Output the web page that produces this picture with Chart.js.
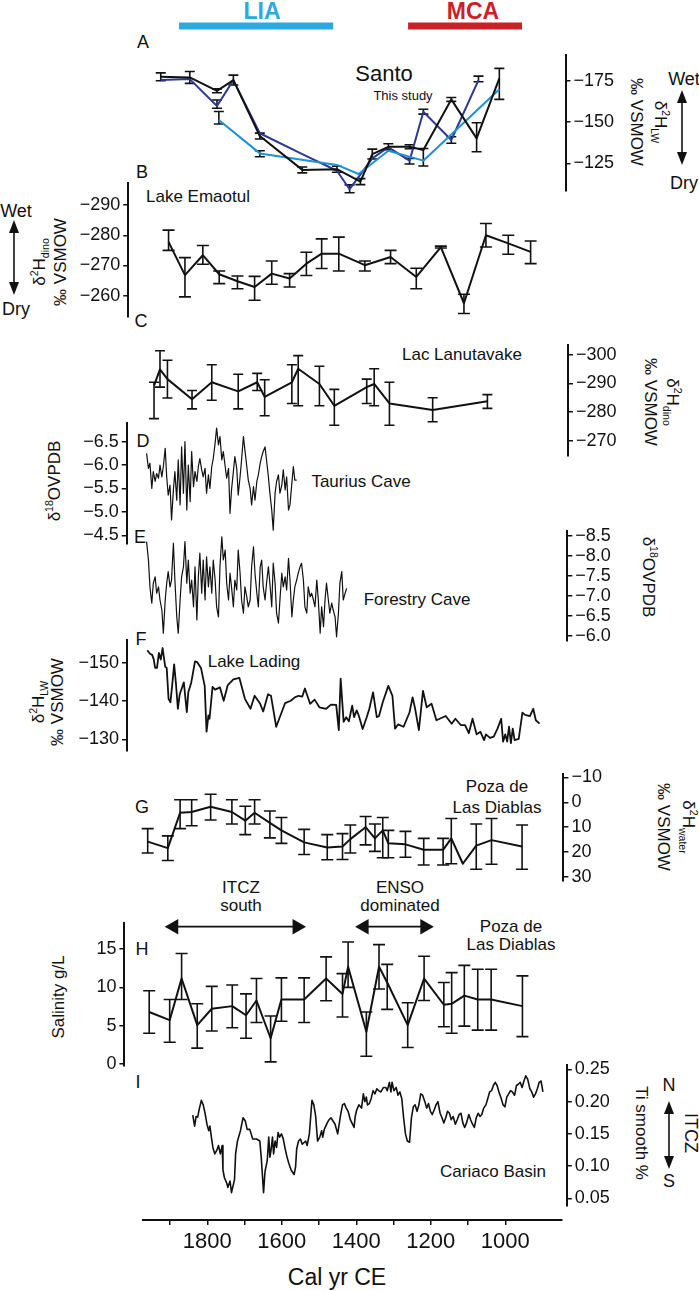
<!DOCTYPE html>
<html>
<head>
<meta charset="utf-8">
<title>Hydroclimate records</title>
<script src="https://cdn.jsdelivr.net/npm/chart.js@4.4.1/dist/chart.umd.min.js"></script>
<style>
  html, body { margin: 0; padding: 0; background: #fff; }
  #page { position: relative; width: 699px; height: 1291px; overflow: hidden;
          font-family: "Liberation Sans", Arial, sans-serif; color: #111; }
  #page canvas { position: absolute; left: 0; }
  .t { position: absolute; white-space: nowrap; transform: translate(-50%, -50%);
       text-align: center; font-size: 17px; line-height: 1.1; }
  .t.up { transform: translate(-50%, -50%) rotate(-90deg); }
  .t.down { transform: translate(-50%, -50%) rotate(90deg); }
  .t sup, .t sub { font-size: 0.62em; line-height: 0; }
  #arrows { position: absolute; left: 0; top: 0; }
</style>
</head>
<body>
<div id="page">
  <svg id="arrows" width="699" height="1291">
    <g stroke="#111" stroke-width="1.6">
      <line x1="682" y1="100" x2="682" y2="155"/>
      <line x1="14" y1="230" x2="14" y2="285"/>
      <line x1="669" y1="1111" x2="669" y2="1159"/>
    </g>
    <g fill="#111">
      <polygon points="682,90 677,103 687,103"/>
      <polygon points="682,165 677,152 687,152"/>
      <polygon points="14,220 9,233 19,233"/>
      <polygon points="14,295 9,282 19,282"/>
      <polygon points="669,1101 664,1114 674,1114"/>
      <polygon points="669,1169 664,1156 674,1156"/>
    </g>
  </svg>

  <div class="t" style="left:262px;top:12px;font-size:23px;font-weight:bold;color:#29abe2">LIA</div>
  <div class="t" style="left:473px;top:12px;font-size:23px;font-weight:bold;color:#cc2027">MCA</div>
  <div class="t" style="left:143px;top:43px;font-size:18px">A</div>
  <div class="t" style="left:384px;top:74px;font-size:22px">Santo</div>
  <div class="t" style="left:403px;top:96px;font-size:13px">This study</div>
  <div class="t down" style="left:648px;top:122px;line-height:24px">δ<sup>2</sup>H<sub>LW</sub><br>‰ VSMOW</div>
  <div class="t" style="left:684px;top:80px;font-size:18px">Wet</div>
  <div class="t" style="left:684px;top:184px;font-size:18px">Dry</div>

  <div class="t" style="left:142px;top:173px;font-size:18px">B</div>
  <div class="t" style="left:198px;top:197px">Lake Emaotul</div>
  <div class="t" style="left:16px;top:212px;font-size:18px">Wet</div>
  <div class="t" style="left:16px;top:310px;font-size:18px">Dry</div>
  <div class="t up" style="left:50px;top:262px;line-height:21px">δ<sup>2</sup>H<sub>dino</sub><br>‰ VSMOW</div>

  <div class="t" style="left:141px;top:322px;font-size:18px">C</div>
  <div class="t" style="left:462px;top:355px">Lac Lanutavake</div>
  <div class="t down" style="left:661px;top:402px;line-height:22px">δ<sup>2</sup>H<sub>dino</sub><br>‰ VSMOW</div>

  <div class="t" style="left:143px;top:442px;font-size:18px">D</div>
  <div class="t" style="left:361px;top:482px">Taurius Cave</div>
  <div class="t up" style="left:55px;top:481px">δ<sup>18</sup>OVPDB</div>

  <div class="t" style="left:140px;top:538px;font-size:18px">E</div>
  <div class="t" style="left:417px;top:600px">Forestry Cave</div>
  <div class="t down" style="left:648px;top:577px">δ<sup>18</sup>OVPDB</div>

  <div class="t" style="left:141px;top:640px;font-size:18px">F</div>
  <div class="t" style="left:254px;top:662px">Lake Lading</div>
  <div class="t up" style="left:48px;top:702px;line-height:19px">δ<sup>2</sup>H<sub>LW</sub><br>‰ VSMOW</div>

  <div class="t" style="left:142px;top:808px;font-size:18px">G</div>
  <div class="t" style="left:497px;top:797px;line-height:21px">Poza de<br>Las Diablas</div>
  <div class="t down" style="left:676px;top:827px;line-height:25px">δ<sup>2</sup>H<sub>water</sub><br>‰ VSMOW</div>

  <div class="t" style="left:241px;top:897px;line-height:18px">ITCZ<br>south</div>
  <div class="t" style="left:400px;top:897px;line-height:18px">ENSO<br>dominated</div>
  <div class="t" style="left:511px;top:936px;line-height:18px">Poza de<br>Las Diablas</div>
  <div class="t" style="left:142px;top:950px;font-size:18px">H</div>
  <div class="t up" style="left:59px;top:997px">Salinity g/L</div>

  <div class="t" style="left:138px;top:1083px;font-size:18px">I</div>
  <div class="t" style="left:493px;top:1172px">Cariaco Basin</div>
  <div class="t down" style="left:641px;top:1133px">Ti smooth %</div>
  <div class="t" style="left:669px;top:1086px;font-size:18px">N</div>
  <div class="t" style="left:669px;top:1182px;font-size:18px">S</div>
  <div class="t down" style="left:690px;top:1133px;font-size:18px">ITCZ</div>

  <div class="t" style="left:337px;top:1278px;font-size:23px">Cal yr CE</div>
</div>

<script>
// periods shown as bars / arrows
const liaPeriod = [1876, 1462];
const mcaPeriod = [1261, 955];
const itczSouthSpan = [1890, 1559];
const ensoSpan = [1379, 1216];

// A - Santo (this study), three lake-water curves
const santoBlackYears = [1925, 1847, 1774, 1730, 1659, 1545, 1452, 1389, 1357, 1314, 1257, 1220, 1145, 1077, 1016];
const santoBlackValues = [-177.4, -177.0, -168.9, -175.4, -141.5, -121.0, -121.4, -113.9, -130.6, -135.0, -135.0, -133.0, -163.7, -140.1, -176.4];
const santoBlackLow = [-179.8, -180.6, -170.1, -178.4, -143.3, -122.8, -123.2, -115.7, -133.6, -136.8, -136.2, -134.0, -164.9, -149.6, -182.5];
const santoBlackHigh = [-175.0, -173.4, -167.7, -172.4, -139.7, -119.2, -119.6, -112.1, -127.6, -133.2, -133.8, -123.4, -162.5, -132.0, -163.7];

const santoNavyYears = [1925, 1847, 1774, 1730, 1659, 1545, 1452, 1418, 1357, 1314, 1257, 1220, 1145, 1072];
const santoNavyValues = [-175.4, -176.0, -159.7, -175.4, -143.2, -130.6, -120.5, -109.3, -128.0, -134.7, -126.6, -156.2, -139.1, -175.4];
const santoNavyLow = [null, null, -163.3, null, null, null, null, -111.9, null, null, -128.0, -157.7, -141.1, -177.8];
const santoNavyHigh = [null, null, -158.3, null, null, null, null, -107.2, null, null, -124.6, -154.8, -137.1, -174.4];

const santoLightYears = [1769, 1659, 1452, 1394, 1314, 1220, 1016];
const santoLightValues = [-151.2, -131.0, -124.0, -118.5, -132.6, -126.6, -169.8];
const santoLightLow = [-156.4, -132.6, null, null, null, null, null];
const santoLightHigh = [-148.8, -129.0, null, null, null, null, null];
const santoTicks = [-175, -150, -125];

// B - Lake Emaotul
const emaotulYears = [1904, 1860, 1812, 1768, 1719, 1673, 1627, 1579, 1534, 1493, 1447, 1377, 1308, 1239, 1173, 1111, 1052, 992, 932];
const emaotulValues = [-277.8, -266.8, -273.4, -267.1, -264.8, -262.9, -267.3, -265.7, -270.6, -273.9, -273.9, -270.1, -272.8, -266.2, -276.1, -257.5, -280.0, -277.3, -274.5];
const emaotulLow = [-281.7, -272.6, -276.6, -268.2, -266.5, -266.4, -271.5, -267.3, -274.4, -278.8, -279.4, -271.5, -275.0, -269.1, -276.4, -260.5, -283.9, -280.0, -278.1];
const emaotulHigh = [-275.0, -259.6, -270.4, -264.0, -262.3, -258.5, -263.8, -262.9, -266.7, -269.0, -268.2, -268.2, -270.6, -262.3, -275.8, -254.1, -276.1, -273.7, -270.6];
const emaotulTicks = [-290, -280, -270, -260];

// C - Lac Lanutavake
const lanutavakeYears = [1943, 1927, 1907, 1841, 1788, 1717, 1666, 1646, 1573, 1556, 1499, 1459, 1372, 1352, 1311, 1195, 1048];
const lanutavakeValues = [-289.2, -294.9, -291.5, -284.5, -290.4, -287.2, -290.4, -285.3, -290.4, -295.1, -289.8, -282.2, -288.7, -289.8, -283.0, -280.7, -283.8];
const lanutavakeLow = [-290.4, -301.4, -298.1, -287.5, -296.5, -293.2, -293.5, -291.3, -296.5, -299.7, -296.0, -287.9, -291.5, -295.1, -290.4, -285.0, -286.1];
const lanutavakeHigh = [-277.7, -288.7, -284.9, -281.1, -284.1, -281.1, -287.5, -278.7, -283.0, -282.2, -282.2, -275.4, -283.0, -282.2, -275.4, -276.6, -281.3];
const lanutavakeTicks = [-300, -290, -280, -270];

// D, E - speleothem records share one age grid
const caveYears = [1963, 1958, 1954, 1949, 1945, 1940, 1936, 1931, 1927, 1922,
  1918, 1913, 1909, 1905, 1900, 1896, 1891, 1887, 1882, 1878,
  1873, 1869, 1864, 1860, 1855, 1851, 1846, 1842, 1837, 1833,
  1828, 1824, 1820, 1815, 1811, 1806, 1802, 1797, 1793, 1788,
  1784, 1779, 1775, 1770, 1766, 1761, 1757, 1752, 1748, 1743,
  1739, 1735, 1730, 1726, 1721, 1717, 1712, 1708, 1703, 1699,
  1694, 1690, 1685, 1681, 1676, 1672, 1667, 1663, 1658, 1654,
  1650, 1645, 1641, 1636, 1632, 1627, 1623, 1618, 1614, 1609,
  1605, 1600, 1596, 1591, 1587, 1582, 1578, 1573, 1569, 1565,
  1560, 1556, 1551, 1547, 1542, 1538, 1533, 1529, 1524, 1520,
  1515, 1511, 1506, 1502, 1497, 1493, 1488, 1484, 1480, 1475,
  1471, 1466, 1462, 1457, 1453, 1448, 1444, 1439, 1435, 1430,
  1426];
const tauriusValues = [-6.25, -5.93, -6.04, -5.50, -5.86, -5.65, -5.82, -5.72, -6.00, -5.75,
  -5.97, -6.36, -5.75, -5.36, -5.57, -4.83, -5.47, -5.86, -5.25, -6.11,
  -5.15, -6.39, -5.40, -6.50, -5.04, -6.00, -5.22, -6.29, -5.54, -5.86,
  -5.65, -5.97, -6.14, -5.90, -5.75, -5.93, -5.40, -5.79, -5.50, -5.97,
  -6.14, -6.47, -6.79, -6.43, -6.61, -6.11, -6.29, -5.97, -5.72, -5.93,
  -4.97, -5.47, -5.86, -6.18, -5.93, -5.36, -5.75, -6.11, -6.61, -6.32,
  -5.97, -5.68, -5.50, -5.15, -5.54, -5.25, -5.65, -5.79, -6.04, -6.18,
  -6.29, -6.39, -6.11, -5.75, -5.40, -5.04, -4.61, -5.40, -5.65, -5.79,
  -5.40, -5.57, -5.90, -5.47, -5.75, -5.04, -5.15, -5.61, -5.97, -5.68, -5.68];
const tauriusTicks = [-6.5, -6.0, -5.5, -5.0, -4.5];

const forestryValues = [-8.36, -7.90, -7.23, -6.82, -7.32, -7.48, -7.07, -7.23, -6.90, -6.65,
  -6.07, -6.90, -7.32, -7.61, -7.23, -7.40, -8.32, -7.40, -6.48, -6.07,
  -6.90, -7.48, -7.73, -8.36, -7.32, -7.90, -7.07, -7.40, -6.73, -7.73,
  -6.40, -7.48, -8.07, -7.07, -7.90, -6.90, -7.98, -7.23, -7.73, -7.07,
  -7.90, -7.40, -6.73, -6.48, -7.73, -8.48, -7.90, -8.15, -7.32, -6.90,
  -7.57, -7.23, -6.73, -7.40, -7.15, -8.15, -7.57, -6.90, -6.57, -7.23,
  -6.98, -6.73, -6.90, -7.73, -8.23, -7.57, -7.07, -6.73, -7.73, -7.90,
  -7.23, -6.90, -7.32, -7.73, -7.32, -6.73, -7.82, -7.32, -6.57, -6.32,
  -6.90, -7.57, -7.23, -7.48, -7.15, -7.94, -7.40, -6.48, -6.90, -7.23,
  -7.40, -7.57, -7.73, -7.82, -7.40, -6.73, -6.57, -7.23, -6.98, -7.07,
  -6.90, -6.73, -7.40, -6.90, -6.07, -6.73, -6.23, -6.90, -7.32, -6.90,
  -6.57, -6.82, -6.65, -6.48, -5.98, -6.57, -7.32, -7.61, -6.90, -7.07,
  -7.19];
const forestryTicks = [-8.5, -8.0, -7.5, -7.0, -6.5, -6.0];

// F - Lake Lading
const ladingYears = [1961, 1954, 1948, 1944, 1940, 1935, 1930, 1925, 1920, 1913,
  1909, 1904, 1899, 1894, 1889, 1884, 1879, 1874, 1863, 1855,
  1851, 1843, 1833, 1827, 1817, 1807, 1802, 1797, 1794, 1786,
  1779, 1766, 1756, 1745, 1730, 1714, 1699, 1684, 1673, 1658,
  1650, 1637, 1629, 1615, 1591, 1576, 1565, 1555, 1545, 1538,
  1524, 1512, 1499, 1481, 1468, 1454, 1447, 1442, 1434, 1427,
  1420, 1411, 1406, 1399, 1393, 1383, 1372, 1365, 1355, 1345,
  1339, 1329, 1314, 1303, 1296, 1288, 1273, 1257, 1249, 1242,
  1232, 1221, 1211, 1198, 1185, 1160, 1144, 1134, 1119, 1108,
  1098, 1088, 1077, 1067, 1057, 1052, 1041, 1031, 1021, 1011,
  1006, 1000, 995, 990, 985, 980, 975, 964, 954, 947,
  934, 925, 918, 908];
const ladingValues = [-153.3, -152.4, -152.1, -151.0, -148.7, -148.7, -152.6, -150.9, -153.9, -149.0,
  -148.7, -140.6, -139.7, -144.4, -149.6, -144.4, -138.0, -141.8, -144.9, -137.1,
  -142.3, -144.9, -150.4, -150.2, -148.7, -144.0, -132.0, -136.3, -135.4, -143.7,
  -143.0, -143.6, -140.1, -144.2, -145.7, -146.1, -140.6, -138.0, -141.4, -139.3,
  -137.3, -141.8, -141.4, -133.3, -139.5, -140.1, -141.0, -141.4, -141.2, -143.3,
  -139.3, -140.4, -138.4, -138.0, -139.1, -139.0, -132.4, -145.9, -134.6, -135.8,
  -134.7, -138.8, -135.8, -137.6, -136.1, -132.7, -135.8, -138.0, -142.3, -135.8,
  -136.1, -139.7, -144.0, -141.4, -132.8, -133.9, -133.3, -137.1, -141.0, -138.0,
  -132.4, -142.7, -138.4, -139.3, -135.0, -136.1, -134.1, -135.4, -133.7, -133.7,
  -131.6, -135.4, -131.3, -132.0, -129.8, -131.3, -130.4, -130.7, -132.8, -135.4,
  -129.4, -131.3, -129.4, -133.3, -129.0, -132.8, -129.8, -130.1, -137.0, -136.4,
  -136.1, -138.0, -135.0, -134.1];
const ladingTicks = [-150, -140, -130];

// G - Poza de Las Diablas, water isotopes
const diablasYears = [1960, 1906, 1873, 1842, 1791, 1734, 1698, 1673, 1632, 1601, 1540, 1478, 1437, 1416, 1375, 1350, 1329, 1314, 1268, 1219, 1167, 1145, 1114, 1078, 1037, 955];
const diablasValues = [15.8, 18.4, 4.2, 3.9, 1.8, 3.9, 7.4, 4.2, 8.3, 11.3, 16.1, 18.2, 17.8, 14.8, 10.0, 14.5, 11.3, 16.5, 16.9, 19.1, 19.1, 14.5, 24.7, 17.4, 15.2, 17.8];
const diablasLow = [10.6, 13.5, -1.0, -1.0, -3.2, -1.0, 1.6, -1.0, 3.5, 6.1, 10.9, 13.0, 12.6, 9.1, 5.7, 8.7, 6.1, 11.3, 11.7, 14.5, 14.5, 6.5, null, 8.7, 6.5, 9.1];
const diablasHigh = [20.4, 23.4, 10.6, 9.4, 7.1, 8.7, 13.0, 8.7, 14.3, 16.5, 21.0, 23.1, 23.0, 20.4, 17.1, 19.7, 22.3, 22.3, 22.1, 25.2, 25.2, 24.7, null, 26.9, 24.9, 26.9];
const diablasTicks = [-10, 0, 10, 20, 30];

// H - Poza de Las Diablas, salinity
const salinityYears = [1956, 1901, 1869, 1827, 1788, 1733, 1696, 1668, 1630, 1601, 1540, 1481, 1437, 1422, 1373, 1339, 1317, 1262, 1218, 1165, 1144, 1110, 1074, 1038, 954];
const salinityValues = [6.79, 5.73, 11.15, 5.09, 7.22, 7.56, 6.37, 8.29, 3.38, 8.42, 8.42, 11.15, 9.15, 12.69, 4.23, 12.69, 10.64, 5.09, 11.15, 7.74, 7.86, 8.93, 8.42, 8.42, 7.56];
const salinityLow = [4.02, 2.86, 8.42, 2.09, 4.32, 4.74, 3.38, 5.43, 0.30, 5.60, 5.43, 8.25, 6.15, 10.00, 1.03, 9.79, 7.14, 2.18, 8.29, 4.87, 4.02, 4.96, 4.44, 4.44, 3.59];
const salinityHigh = [9.57, 8.42, 14.40, 7.86, 10.13, 10.30, 9.15, 11.15, 6.28, 11.24, 11.24, 13.97, 11.79, 15.90, 6.79, 15.56, 12.99, 7.99, 14.06, 10.64, 11.92, 12.86, 12.35, 12.35, 11.50];
const salinityTicks = [0, 5, 10, 15];

// I - Cariaco Basin Ti
const cariacoYears = [1839, 1834, 1830, 1826, 1821, 1816, 1811, 1806, 1801, 1796,
  1793, 1789, 1785, 1780, 1775, 1770, 1765, 1760, 1758, 1754,
  1748, 1745, 1739, 1735, 1731, 1727, 1724, 1719, 1711, 1704,
  1698, 1693, 1686, 1678, 1668, 1659, 1655, 1649, 1645, 1639,
  1635, 1632, 1629, 1625, 1622, 1618, 1614, 1610, 1606, 1601,
  1596, 1591, 1586, 1581, 1575, 1567, 1563, 1560, 1555, 1550,
  1545, 1536, 1532, 1526, 1522, 1519, 1514, 1509, 1504, 1498,
  1493, 1490, 1486, 1478, 1473, 1468, 1457, 1450, 1442, 1437,
  1432, 1427, 1422, 1416, 1406, 1403, 1399, 1393, 1386, 1381,
  1377, 1373, 1370, 1365, 1360, 1355, 1350, 1345, 1340, 1334,
  1327, 1321, 1317, 1311, 1307, 1304, 1299, 1293, 1288, 1283,
  1278, 1273, 1268, 1263, 1257, 1252, 1247, 1242, 1237, 1232,
  1227, 1222, 1216, 1211, 1206, 1201, 1196, 1191, 1186, 1181,
  1175, 1170, 1165, 1160, 1155, 1150, 1145, 1140, 1134, 1129,
  1124, 1119, 1114, 1109, 1104, 1098, 1093, 1088, 1083, 1078,
  1073, 1068, 1063, 1058, 1052, 1047, 1042, 1037, 1032, 1027,
  1022, 1017, 1011, 1006, 1001, 996, 991, 986, 981, 975,
  970, 965, 960, 955, 950, 945, 940, 934, 929, 924,
  919, 914, 909, 904, 899];
const cariacoValues = [0.179, 0.162, 0.177, 0.176, 0.190, 0.202, 0.195, 0.182, 0.165, 0.155,
  0.162, 0.145, 0.129, 0.119, 0.124, 0.132, 0.119, 0.132, 0.094, 0.082,
  0.074, 0.067, 0.077, 0.059, 0.069, 0.079, 0.119, 0.139, 0.155, 0.175,
  0.170, 0.157, 0.157, 0.142, 0.142, 0.139, 0.112, 0.059, 0.092, 0.109,
  0.145, 0.114, 0.124, 0.145, 0.119, 0.139, 0.129, 0.152, 0.145, 0.150,
  0.142, 0.127, 0.114, 0.104, 0.094, 0.087, 0.099, 0.127, 0.139, 0.142,
  0.134, 0.139, 0.132, 0.150, 0.180, 0.202, 0.195, 0.177, 0.139, 0.145,
  0.155, 0.145, 0.157, 0.167, 0.172, 0.175, 0.165, 0.150, 0.180, 0.195,
  0.197, 0.190, 0.185, 0.172, 0.160, 0.177, 0.187, 0.195, 0.190, 0.212,
  0.200, 0.207, 0.195, 0.197, 0.205, 0.217, 0.212, 0.220, 0.217, 0.215,
  0.222, 0.222, 0.217, 0.230, 0.215, 0.230, 0.217, 0.222, 0.210, 0.215,
  0.205, 0.175, 0.150, 0.139, 0.137, 0.175, 0.192, 0.195, 0.185, 0.195,
  0.212, 0.210, 0.200, 0.190, 0.197, 0.185, 0.180, 0.187, 0.195, 0.200,
  0.182, 0.175, 0.167, 0.175, 0.185, 0.182, 0.172, 0.177, 0.165, 0.172,
  0.180, 0.182, 0.167, 0.160, 0.167, 0.180, 0.172, 0.165, 0.160, 0.175,
  0.182, 0.177, 0.180, 0.190, 0.195, 0.205, 0.215, 0.217, 0.225, 0.230,
  0.225, 0.215, 0.205, 0.195, 0.192, 0.207, 0.212, 0.217, 0.215, 0.210,
  0.225, 0.227, 0.230, 0.222, 0.232, 0.240, 0.235, 0.220, 0.215, 0.207,
  0.212, 0.220, 0.230, 0.232, 0.215];
const cariacoTicks = [0.05, 0.10, 0.15, 0.20, 0.25];

// shared time axis
const axisTickYears = [1900, 1800, 1700, 1600, 1500, 1400, 1300, 1200, 1100, 1000];
const axisLabelYears = [1800, 1600, 1400, 1200, 1000];

// ---- layout: every panel shares the same year -> pixel mapping
const PX_1800 = 207.3;
const PX_PER_YEAR = 0.3725;
const AXIS_W = 60;
const FONT = '"Liberation Sans", Arial, sans-serif';
const yearAt = px => 1800 + (PX_1800 - px) / PX_PER_YEAR;
const minus = s => s.replace('-', '\u2212');
const page = document.getElementById('page');

const errorBars = {
  id: 'errorBars',
  beforeDatasetsDraw(chart) {
    const ctx = chart.ctx, xs = chart.scales.x, ys = chart.scales.y;
    chart.data.datasets.forEach(ds => {
      if (!ds.lows) return;
      const c = (ds.capWidth || 12) / 2;
      ctx.save();
      ctx.strokeStyle = '#111';
      ctx.lineWidth = 1.6;
      ds.data.forEach((p, i) => {
        if (ds.lows[i] == null) return;
        const x = xs.getPixelForValue(p.x);
        const y1 = ys.getPixelForValue(ds.lows[i]);
        const y2 = ys.getPixelForValue(ds.highs[i]);
        ctx.beginPath();
        ctx.moveTo(x, y1); ctx.lineTo(x, y2);
        ctx.moveTo(x - c, y1); ctx.lineTo(x + c, y1);
        ctx.moveTo(x - c, y2); ctx.lineTo(x + c, y2);
        ctx.stroke();
      });
      ctx.restore();
    });
  }
};

function series(years, values, opts) {
  return Object.assign({
    data: values.map((v, i) => ({ x: years[i], y: v })),
    borderColor: '#111',
    borderWidth: 2,
    clip: false,
    pointRadius: 0
  }, opts || {});
}

function makeCanvas(top, height) {
  const canvas = document.createElement('canvas');
  canvas.width = 699;
  canvas.height = height;
  canvas.style.top = top + 'px';
  page.appendChild(canvas);
  return canvas;
}

function panel(p) {
  const canvas = makeCanvas(p.top, p.height);
  const left = p.side === 'left' ? p.axisX : 90;
  const right = p.side === 'right' ? p.axisX : 610;
  new Chart(canvas, {
    type: 'line',
    data: { datasets: p.datasets },
    options: {
      responsive: false,
      animation: false,
      events: [],
      layout: {
        autoPadding: false,
        padding: {
          left: p.side === 'left' ? left - AXIS_W : left,
          right: p.side === 'right' ? 699 - right - AXIS_W : 699 - right,
          top: p.axisTop - p.top,
          bottom: p.top + p.height - p.axisBottom
        }
      },
      plugins: { legend: { display: false }, tooltip: { enabled: false } },
      elements: { point: { radius: 0, hoverRadius: 0 }, line: { tension: 0, borderJoinStyle: 'round' } },
      scales: {
        x: { type: 'linear', display: false, reverse: true, min: yearAt(right), max: yearAt(left) },
        y: {
          type: 'linear',
          position: p.side,
          reverse: p.topVal < p.bottomVal,
          min: Math.min(p.topVal, p.bottomVal),
          max: Math.max(p.topVal, p.bottomVal),
          afterFit: s => { s.width = AXIS_W; },
          afterBuildTicks: s => { s.ticks = p.ticks.map(v => ({ value: v })); },
          border: { color: '#111', width: 2 },
          grid: { drawOnChartArea: false, color: '#111', lineWidth: 1.5, tickLength: 5 },
          ticks: {
            color: '#111', padding: 3, autoSkip: false,
            font: { family: FONT, size: 18 },
            callback: v => minus(Number(v).toFixed(p.decimals || 0))
          }
        }
      }
    },
    plugins: [errorBars]
  });
}

// A
panel({
  top: 0, height: 210, axisTop: 55, axisBottom: 190.7, axisX: 565.5, side: 'right',
  topVal: -190.6, bottomVal: -108.4, ticks: santoTicks,
  datasets: [
    series(liaPeriod, [-208.1, -208.1], { borderColor: '#29abe2', borderWidth: 7, borderCapStyle: 'butt' }),
    series(mcaPeriod, [-208.1, -208.1], { borderColor: '#cc2027', borderWidth: 7, borderCapStyle: 'butt' }),
    series(santoBlackYears, santoBlackValues, { lows: santoBlackLow, highs: santoBlackHigh, capWidth: 10 }),
    series(santoLightYears, santoLightValues, { borderColor: '#1f8fd6', lows: santoLightLow, highs: santoLightHigh, capWidth: 10 }),
    series(santoNavyYears, santoNavyValues, { borderColor: '#2e3a92', lows: santoNavyLow, highs: santoNavyHigh, capWidth: 10 })
  ]
});

// B
panel({
  top: 160, height: 175, axisTop: 182.7, axisBottom: 316.7, axisX: 128.2, side: 'left',
  topVal: -297.4, bottomVal: -253.05, ticks: emaotulTicks,
  datasets: [series(emaotulYears, emaotulValues, { lows: emaotulLow, highs: emaotulHigh })]
});

// C
panel({
  top: 325, height: 145, axisTop: 345, axisBottom: 459.3, axisX: 568, side: 'right',
  topVal: -303.4, bottomVal: -264.6, ticks: lanutavakeTicks,
  datasets: [series(lanutavakeYears, lanutavakeValues, { lows: lanutavakeLow, highs: lanutavakeHigh, capWidth: 10 })]
});

// D
panel({
  top: 400, height: 160, axisTop: 422.7, axisBottom: 543.3, axisX: 126.7, side: 'left',
  topVal: -6.906, bottomVal: -4.329, ticks: tauriusTicks, decimals: 1,
  datasets: [series(caveYears, tauriusValues, { borderWidth: 1.2 })]
});

// E
panel({
  top: 515, height: 140, axisTop: 530.7, axisBottom: 641, axisX: 567.3, side: 'right',
  topVal: -8.633, bottomVal: -5.875, ticks: forestryTicks, decimals: 1,
  datasets: [series(caveYears, forestryValues, { borderWidth: 1.2 })]
});

// F
panel({
  top: 625, height: 140, axisTop: 640, axisBottom: 753, axisX: 127, side: 'left',
  topVal: -156.0, bottomVal: -126.9, ticks: ladingTicks,
  datasets: [series(ladingYears, ladingValues, { borderWidth: 1.8 })]
});

// G
panel({
  top: 760, height: 135, axisTop: 773.3, axisBottom: 884, axisX: 563.4, side: 'right',
  topVal: -11.44, bottomVal: 31.7, ticks: diablasTicks,
  datasets: [series(diablasYears, diablasValues, { lows: diablasLow, highs: diablasHigh })]
});

// H
panel({
  top: 905, height: 175, axisTop: 923.3, axisBottom: 1068, axisX: 124.4, side: 'left',
  topVal: 18.34, bottomVal: -0.26, ticks: salinityTicks,
  datasets: [
    series(itczSouthSpan, [17.9, 17.9], { pointStyle: 'triangle', pointRadius: 9, pointRotation: [-90, 90], pointBackgroundColor: '#111', pointBorderWidth: 0, borderWidth: 1.8 }),
    series(ensoSpan, [17.9, 17.9], { pointStyle: 'triangle', pointRadius: 9, pointRotation: [-90, 90], pointBackgroundColor: '#111', pointBorderWidth: 0, borderWidth: 1.8 }),
    series(salinityYears, salinityValues, { lows: salinityLow, highs: salinityHigh })
  ]
});

// I
panel({
  top: 1050, height: 170, axisTop: 1065, axisBottom: 1210, axisX: 566.8, side: 'right',
  topVal: 0.2568, bottomVal: 0.0379, ticks: cariacoTicks, decimals: 2,
  datasets: [series(cariacoYears, cariacoValues, { borderWidth: 1.6 })]
});

// shared time axis
(function () {
  const canvas = makeCanvas(1190, 101);
  new Chart(canvas, {
    type: 'line',
    data: { datasets: [] },
    options: {
      responsive: false,
      animation: false,
      events: [],
      layout: { autoPadding: false, padding: { left: 142.7, right: 699 - 562, top: 10, bottom: 0 } },
      plugins: { legend: { display: false }, tooltip: { enabled: false } },
      scales: {
        x: {
          type: 'linear', position: 'bottom', reverse: true,
          min: yearAt(562), max: yearAt(142.7),
          afterFit: s => { s.height = 71; },
          afterBuildTicks: s => { s.ticks = axisTickYears.map(v => ({ value: v })); },
          border: { color: '#111', width: 2 },
          grid: { drawOnChartArea: false, color: '#111', lineWidth: 1.5, tickLength: 5 },
          ticks: {
            color: '#111', padding: 4, maxRotation: 0, autoSkip: false,
            font: { family: FONT, size: 22 },
            callback: v => axisLabelYears.includes(v) ? String(v) : ''
          }
        },
        y: { display: false }
      }
    }
  });
})();
</script>
</body>
</html>
